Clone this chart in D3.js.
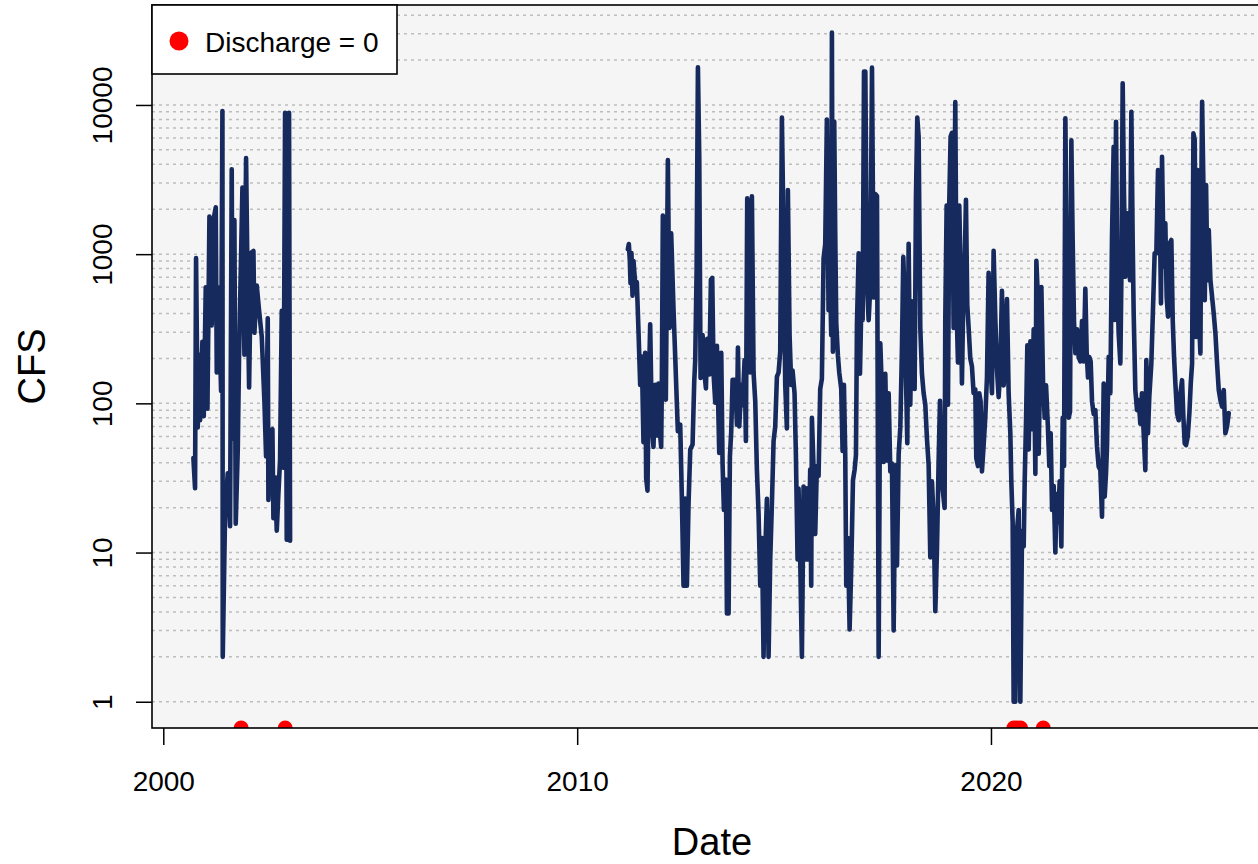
<!DOCTYPE html>
<html lang="en">
<head>
<meta charset="UTF-8">
<title>Discharge</title>
<script src="https://cdnjs.cloudflare.com/ajax/libs/d3/7.8.5/d3.min.js"></script>
<style>
  html, body { margin: 0; padding: 0; background: #fff; }
  text { font-family: "Liberation Sans", Arial, sans-serif; fill: #000; }
  .grid line { stroke: #bdbdbd; stroke-width: 1.5; stroke-dasharray: 3,4; }
  .flow { fill: none; stroke: #172a5e; stroke-width: 4.6; stroke-linejoin: round; stroke-linecap: round; }
  .axis line { stroke: #000; stroke-width: 1.5; }
</style>
</head>
<body>
<script>

// daily discharge (decimal year, cfs)
var yrA = [2000.726, 2000.766, 2000.790, 2000.831, 2000.863, 2000.887, 2000.943, 2000.976, 2001.024, 2001.065,
  2001.113, 2001.169, 2001.210, 2001.266, 2001.290, 2001.331, 2001.355, 2001.395, 2001.427, 2001.435,
  2001.491, 2001.556, 2001.612, 2001.652, 2001.677, 2001.717, 2001.749, 2001.798, 2001.830, 2001.911,
  2001.959, 2001.999, 2002.039, 2002.072, 2002.120, 2002.177, 2002.201, 2002.257, 2002.314, 2002.378,
  2002.443, 2002.483, 2002.523, 2002.539, 2002.580, 2002.636, 2002.660, 2002.700, 2002.741, 2002.781,
  2002.821, 2002.862, 2002.902, 2002.942, 2002.982, 2003.038, 2003.063];
var cfsA = [43, 27, 940, 69, 212, 77, 259, 82, 600, 92,
  1790, 333, 1690, 2060, 161, 600, 333, 121, 9100, 2,
  18, 34, 15, 3700, 58, 1690, 15.6, 49, 212, 2800,
  212, 4400, 521, 128, 1020, 1050, 297, 617, 417, 281,
  102, 44, 372, 22.5, 65, 67, 17, 32, 14, 25,
  42, 417, 37, 8870, 12.2, 8870, 12];

var yrB = [2011.225, 2011.249, 2011.273, 2011.289, 2011.313, 2011.338, 2011.362, 2011.386, 2011.418, 2011.442,
  2011.483, 2011.523, 2011.563, 2011.603, 2011.644, 2011.668, 2011.700, 2011.724, 2011.765, 2011.805,
  2011.845, 2011.886, 2011.926, 2011.966, 2012.006, 2012.031, 2012.047, 2012.071, 2012.111, 2012.143,
  2012.192, 2012.232, 2012.272, 2012.329, 2012.369, 2012.433, 2012.490, 2012.530, 2012.570, 2012.610,
  2012.651, 2012.691, 2012.732, 2012.788, 2012.828, 2012.852, 2012.885, 2012.917, 2012.949, 2012.981,
  2013.030, 2013.078, 2013.110, 2013.143, 2013.191, 2013.231, 2013.263, 2013.296, 2013.336, 2013.376,
  2013.432, 2013.481, 2013.513, 2013.545, 2013.594, 2013.618, 2013.658, 2013.690, 2013.722, 2013.755,
  2013.803,
  2013.819, 2013.860, 2013.884, 2013.916, 2013.964, 2013.996, 2014.045, 2014.077, 2014.109, 2014.141,
  2014.182, 2014.222, 2014.262, 2014.303, 2014.343, 2014.383, 2014.424, 2014.464, 2014.504, 2014.545,
  2014.585, 2014.625, 2014.665, 2014.706, 2014.746, 2014.786, 2014.827, 2014.867, 2014.907, 2014.947,
  2014.988, 2015.028, 2015.068, 2015.092, 2015.133, 2015.173, 2015.205, 2015.253, 2015.286, 2015.326,
  2015.350, 2015.390, 2015.431, 2015.471, 2015.511, 2015.552, 2015.592, 2015.632, 2015.656, 2015.673,
  2015.713, 2015.753, 2015.793, 2015.834, 2015.874, 2015.914, 2015.955, 2015.995, 2016.035, 2016.075,
  2016.108, 2016.140, 2016.156, 2016.180, 2016.212, 2016.236, 2016.261, 2016.301, 2016.333, 2016.381,
  2016.414, 2016.446, 2016.478, 2016.502, 2016.543, 2016.583, 2016.623, 2016.664, 2016.704, 2016.736,
  2016.760, 2016.801, 2016.833, 2016.865, 2016.897, 2016.930, 2016.962, 2017.002, 2017.042, 2017.083,
  2017.123, 2017.163, 2017.203, 2017.244, 2017.284, 2017.324, 2017.365, 2017.405, 2017.445, 2017.485,
  2017.526, 2017.566, 2017.606, 2017.647, 2017.687, 2017.727, 2017.768, 2017.808, 2017.848, 2017.880,
  2017.912, 2017.945, 2017.977, 2018.009, 2018.049, 2018.090, 2018.130, 2018.154, 2018.186, 2018.218,
  2018.251, 2018.291, 2018.331, 2018.372, 2018.412, 2018.452, 2018.493, 2018.533, 2018.573, 2018.614,
  2018.654, 2018.694, 2018.734, 2018.767, 2018.799, 2018.831, 2018.879, 2018.895, 2018.928, 2018.960,
  2018.992, 2019.024, 2019.057, 2019.097, 2019.137, 2019.169, 2019.202, 2019.234, 2019.266, 2019.298,
  2019.331, 2019.363, 2019.395, 2019.427, 2019.460, 2019.500, 2019.540, 2019.580,
  2019.621, 2019.645, 2019.685, 2019.717, 2019.749, 2019.782, 2019.822, 2019.862, 2019.903, 2019.943,
  2019.983, 2020.024, 2020.064, 2020.104, 2020.145, 2020.185, 2020.225, 2020.265, 2020.306, 2020.346,
  2020.386, 2020.426, 2020.467, 2020.491, 2020.523, 2020.547, 2020.588, 2020.628, 2020.668, 2020.708,
  2020.749, 2020.789, 2020.813, 2020.845, 2020.877, 2020.910, 2020.950, 2020.990, 2021.030, 2021.071,
  2021.095, 2021.119, 2021.151, 2021.192, 2021.216, 2021.256, 2021.296, 2021.329, 2021.369, 2021.409,
  2021.441, 2021.474, 2021.514, 2021.554, 2021.586, 2021.619, 2021.659, 2021.699, 2021.732, 2021.764,
  2021.796, 2021.836, 2021.877, 2021.909, 2021.941, 2021.973, 2022.005, 2022.038, 2022.078, 2022.118,
  2022.159, 2022.199, 2022.239, 2022.279, 2022.312, 2022.344, 2022.376, 2022.408, 2022.441, 2022.481,
  2022.521, 2022.562, 2022.602, 2022.642, 2022.682, 2022.723, 2022.747, 2022.779, 2022.803, 2022.844,
  2022.884, 2022.924, 2022.964, 2022.989, 2023.021, 2023.053, 2023.085, 2023.126, 2023.150, 2023.182,
  2023.214, 2023.247, 2023.287, 2023.327, 2023.359, 2023.392, 2023.424, 2023.448, 2023.488, 2023.529,
  2023.569, 2023.609, 2023.649, 2023.690, 2023.730, 2023.754, 2023.794, 2023.826, 2023.875, 2023.907,
  2023.955, 2023.996, 2024.036, 2024.068, 2024.108, 2024.133, 2024.173, 2024.213, 2024.245, 2024.278,
  2024.318, 2024.358, 2024.391, 2024.423, 2024.455, 2024.495, 2024.535, 2024.576, 2024.616, 2024.648,
  2024.680, 2024.713, 2024.753, 2024.793, 2024.826, 2024.858, 2024.890, 2024.922, 2024.955, 2024.987,
  2025.019, 2025.059, 2025.083, 2025.100, 2025.132, 2025.164, 2025.196, 2025.228, 2025.261, 2025.301,
  2025.341, 2025.381, 2025.422, 2025.462, 2025.502, 2025.542, 2025.583, 2025.623, 2025.663, 2025.703,
  2025.744];
var cfsB = [1077, 1170, 900, 638, 1019, 526, 900, 732, 556, 650,
  303, 133, 206, 55, 218, 31.6, 26, 101, 339, 72,
  51, 133, 61, 136, 61, 51, 133, 1817, 243, 106,
  4275, 320, 1380, 422, 206, 65, 72, 23, 6, 23,
  6, 21.5, 49, 53, 140, 195, 774, 17900, 4518, 148,
  287, 156, 126, 271, 156, 675, 693, 156, 101, 243,
  46.5, 218, 39, 19.3, 30.8, 3.9, 3.9, 44, 65, 144,
  144,
  142, 72, 237, 70, 133, 97, 195, 56, 2366, 1513,
  161, 2444, 161, 103, 35.8, 18.3, 6, 12.5, 2, 10.3,
  22.9, 2, 9, 21.5, 56, 70, 151, 161, 222, 8240,
  1331, 133, 68, 2690, 286, 133, 166, 117, 45, 9,
  26.8, 9, 2, 27.7, 9, 27, 9, 36, 6, 80,
  37, 13.3, 38, 32.6, 125, 146, 936, 1170, 7980, 421,
  797, 286, 30600, 222, 7730, 1420, 347, 208, 161, 125,
  48, 133, 45, 6, 12.5, 3.05, 8, 30.5, 36, 45,
  340, 1012, 158, 456, 361, 16750, 16750, 613, 361, 613,
  17780, 513, 2531, 2455, 2, 253, 117, 40.5, 158, 41.5,
  117, 35, 39.5, 3, 38.5, 8.2, 45.6, 69, 238, 955,
  513, 149, 54, 1175, 98, 484, 293, 125, 2384, 8240,
  6140, 320, 158, 117, 98, 58, 38.5, 9.3, 30, 16.7,
  4.05, 10.4, 40.5, 104, 43, 26.8, 19.9, 361, 2120, 98,
  2250, 6140, 6510, 320, 10440, 430, 188, 2120, 732, 136,
  513, 823, 2316, 456, 320, 200, 177, 117,
  124, 43, 38, 117, 103, 35, 52, 80, 149, 750,
  191, 117, 1052, 379, 169, 110, 169, 567, 132, 191,
  500, 117, 63, 29.8, 16, 1, 1, 14.2, 19.3, 1,
  14, 11, 30, 75, 245, 49, 261, 67, 314, 33.7,
  902, 622, 46, 217, 603, 140, 80, 132, 75, 38,
  63, 19.3, 28, 10, 24.7, 16, 30, 11, 80, 38,
  8150, 661, 80, 88, 5790, 1230, 356, 217, 314, 204,
  191, 356, 191, 585, 217, 149, 204, 191, 103, 85,
  90, 51, 37.6, 35.7, 17.4, 136, 23.7, 34, 51, 205,
  117, 1308, 5250, 362, 7720, 670, 294, 185, 670, 13960,
  2555, 706, 1877, 1877, 670, 9000, 1244, 401, 123, 90,
  105, 73, 117, 63, 35.7, 195, 63, 111, 185, 362,
  1012, 1012, 3660, 3140, 468, 4497, 824, 1608, 518, 381,
  1181, 1244, 362, 205, 136, 86, 77, 117, 143, 81,
  54, 52.5, 60, 86, 136, 185, 6450, 5820, 279, 3660,
  401, 216, 3140, 10500, 2830, 492, 2905, 670, 1451, 670,
  518, 401, 294, 185, 123, 105, 95, 123, 63, 70,
  86];

// days with zero flow
var zeroDays = [2001.880, 2002.945, 2020.551, 2020.636, 2020.714, 2021.262];

var xTicks = [2000, 2010, 2020];
var yTicks = [1, 10, 100, 1000, 10000];
var legendLabel = "Discharge = 0";

var width = 1258, height = 864;
var box = {left: 152, right: 1272, top: 5, bottom: 728};

function toDate(yr) {
  var y0 = Math.floor(yr);
  var a = Date.UTC(y0, 0, 1), b = Date.UTC(y0 + 1, 0, 1);
  return new Date(a + (yr - y0) * (b - a));
}

function rows(yrs, vals) {
  return yrs.map(function(d, i) { return {date: toDate(d), cfs: vals[i]}; });
}

var x = d3.scaleUtc()
  .domain([toDate(1999.727), toDate(2026.79)])
  .range([box.left, box.right]);

var y = d3.scaleLog()
  .domain([Math.pow(10, -0.176), Math.pow(10, 4.670)])
  .range([box.bottom, box.top]);

var svg = d3.select("body").append("svg")
  .attr("width", width).attr("height", height);

svg.append("defs").append("clipPath").attr("id", "clip")
  .append("rect")
  .attr("x", box.left).attr("y", box.top)
  .attr("width", box.right - box.left).attr("height", box.bottom - box.top);

svg.append("rect")
  .attr("x", box.left).attr("y", box.top)
  .attr("width", box.right - box.left).attr("height", box.bottom - box.top)
  .attr("fill", "#f5f5f5");

// log gridlines 1,2,...,9 x 10^k
var gridVals = [];
for (var k = 0; k <= 4; k++) {
  for (var m = 1; m <= 9; m++) {
    var v = m * Math.pow(10, k);
    if (v < y.domain()[1]) gridVals.push(v);
  }
}

svg.append("g").attr("class", "grid")
  .selectAll("line").data(gridVals).enter().append("line")
  .attr("x1", box.left).attr("x2", box.right)
  .attr("y1", function(d) { return y(d); })
  .attr("y2", function(d) { return y(d); });

var line = d3.line()
  .x(function(d) { return x(d.date); })
  .y(function(d) { return y(d.cfs); });

var chart = svg.append("g").attr("clip-path", "url(#clip)");

[rows(yrA, cfsA), rows(yrB, cfsB)].forEach(function(seg) {
  chart.append("path").attr("class", "flow").attr("d", line(seg));
});

chart.selectAll("circle.zero").data(zeroDays).enter().append("circle")
  .attr("class", "zero")
  .attr("cx", function(d) { return x(toDate(d)); })
  .attr("cy", y(y.domain()[0]))
  .attr("r", 7.5)
  .attr("fill", "#ff0000");

// axes
var xAxis = d3.axisBottom(x)
  .tickValues(xTicks.map(toDate))
  .tickFormat(d3.utcFormat("%Y"))
  .tickSize(17);

var gx = svg.append("g").attr("class", "axis")
  .attr("transform", "translate(0," + box.bottom + ")")
  .call(xAxis);
gx.select(".domain").remove();
gx.selectAll("text")
  .attr("y", 63).attr("dy", null)
  .style("font-size", "28px")
  .style("font-family", "'Liberation Sans', Arial, sans-serif");

var yAxis = d3.axisLeft(y)
  .tickValues(yTicks)
  .tickFormat(d3.format("d"))
  .tickSize(16);

var gy = svg.append("g").attr("class", "axis")
  .attr("transform", "translate(" + box.left + ",0)")
  .call(yAxis);
gy.select(".domain").remove();
gy.selectAll("text")
  .attr("transform", "rotate(-90)")
  .attr("x", 0).attr("y", -40).attr("dy", null)
  .attr("text-anchor", "middle")
  .style("font-size", "28px")
  .style("font-family", "'Liberation Sans', Arial, sans-serif");

// plot frame
svg.append("rect")
  .attr("x", box.left).attr("y", box.top)
  .attr("width", box.right - box.left).attr("height", box.bottom - box.top)
  .attr("fill", "none").attr("stroke", "#000").attr("stroke-width", 1.6);

// axis titles
svg.append("text")
  .attr("x", (box.left + box.right) / 2).attr("y", 855)
  .attr("text-anchor", "middle")
  .style("font-size", "38px")
  .text("Date");

svg.append("text")
  .attr("transform", "translate(45," + ((box.top + box.bottom) / 2) + ") rotate(-90)")
  .attr("text-anchor", "middle")
  .style("font-size", "38px")
  .text("CFS");

// legend
var lg = svg.append("g");
lg.append("rect")
  .attr("x", box.left).attr("y", box.top)
  .attr("width", 245).attr("height", 69)
  .attr("fill", "#fff").attr("stroke", "#000").attr("stroke-width", 1.6);
lg.append("circle")
  .attr("cx", 179).attr("cy", 41).attr("r", 9.5)
  .attr("fill", "#ff0000");
lg.append("text")
  .attr("x", 205).attr("y", 52)
  .style("font-size", "28px")
  .text(legendLabel);

</script>
</body>
</html>
